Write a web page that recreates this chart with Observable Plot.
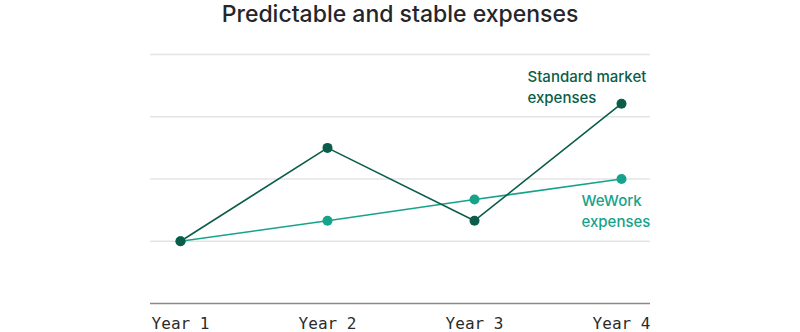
<!DOCTYPE html>
<html>
<head>
<meta charset="utf-8">
<script src="https://cdn.jsdelivr.net/npm/d3@7"></script>
<script src="https://cdn.jsdelivr.net/npm/@observablehq/plot@0.6"></script>
<style>
  html, body { margin: 0; padding: 0; background: #fff; }
  #title { font-family: Inter, "Noto Sans", sans-serif; font-size: 23px; font-weight: 500; color: #24262b; text-align: center; height: 42px; line-height: 28px; box-sizing: border-box; margin-top: -2px; padding-top: 2px; }
</style>
</head>
<body>
<div id="title">Predictable and stable expenses</div>
<div id="chart"></div>
<script>
const years = ["Year 1", "Year 2", "Year 3", "Year 4"];
const standard = [1.0, 2.5, 1.33, 3.21];
const wework = [1.0, 1.33, 1.67, 2.0];
const gridTicks = [1, 2, 3, 4];
const labels = [
  {series: "standard", text: "Standard market\nexpenses"},
  {series: "wework", text: "WeWork\nexpenses"}
];

const cStd = "#0b5d4a";
const cWw = "#16a38b";

const rows = [];
years.forEach((y, i) => {
  rows.push({year: y, value: standard[i], series: "standard"});
  rows.push({year: y, value: wework[i], series: "wework"});
});
const stdRows = rows.filter(d => d.series === "standard");
const wwRows = rows.filter(d => d.series === "wework");

const chart = Plot.plot({
  width: 800,
  height: 292,
  marginLeft: 150,
  marginRight: 150,
  marginTop: 14,
  marginBottom: 29,
  x: {type: "point", domain: years, padding: 0.2},
  y: {domain: [0, 4]},
  style: {background: "#fff"},
  marks: [
    Plot.gridY(gridTicks, {stroke: "#e4e4e4", strokeOpacity: 1, strokeWidth: 1.5}),
    Plot.ruleY([0], {stroke: "#8a8a8a", strokeWidth: 1.5}),
    Plot.axisX({tickSize: 0, tickPadding: 14, fontSize: 16, fontFamily: "'DejaVu Sans Mono', monospace", color: "#2b2b2b", label: null}),
    Plot.axisY({ticks: [], label: null}),
    Plot.line(wwRows, {x: "year", y: "value", stroke: cWw, strokeWidth: 1.6}),
    Plot.line(stdRows, {x: "year", y: "value", stroke: cStd, strokeWidth: 1.6}),
    Plot.dot(wwRows, {x: "year", y: "value", fill: cWw, r: 5}),
    Plot.dot(stdRows, {x: "year", y: "value", fill: cStd, r: 5}),
    Plot.text([labels[0]], {x: () => years[3], y: () => standard[3], text: "text", fill: cStd, textAnchor: "start", dx: -94, dy: -18, fontSize: 15, fontWeight: 500, lineHeight: 1.38, fontFamily: "Inter, 'Noto Sans', sans-serif"}),
    Plot.text([labels[1]], {x: () => years[3], y: () => wework[3], text: "text", fill: cWw, textAnchor: "start", dx: -40, dy: 31, fontSize: 15, fontWeight: 500, lineHeight: 1.38, fontFamily: "Inter, 'Noto Sans', sans-serif"})
  ]
});
document.getElementById("chart").appendChild(chart);
</script>
</body>
</html>
